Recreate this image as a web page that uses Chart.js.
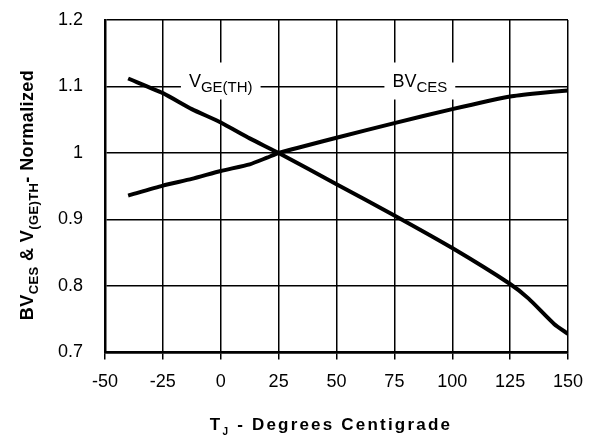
<!DOCTYPE html>
<html>
<head>
<meta charset="utf-8">
<script src="https://cdn.jsdelivr.net/npm/chart.js@4.4.1/dist/chart.umd.min.js"></script>
<style>
  html, body { margin: 0; padding: 0; background: #fff; }
  #wrap { width: 591px; height: 440px; }
</style>
</head>
<body>
<div id="wrap"><canvas id="chart" width="591" height="440"></canvas></div>
<script>
// temperature (deg C) and normalized values
const vgeTemps = [-40, -25, -12.5, 0, 12.5, 25, 50, 75, 100, 125, 133, 144, 150]
const vgeValues = [1.112, 1.090, 1.066, 1.046, 1.022, 1.0, 0.953, 0.906, 0.857, 0.803, 0.781, 0.743, 0.728]

const bvTemps = [-40, -25, -12.5, 0, 12.5, 20, 25, 50, 75, 100, 125, 137, 150]
const bvValues = [0.936, 0.951, 0.961, 0.973, 0.983, 0.993, 1.0, 1.023, 1.045, 1.066, 1.085, 1.090, 1.094]

const xTicks = [-50, -25, 0, 25, 50, 75, 100, 125, 150]
const yTicks = [0.7, 0.8, 0.9, 1.0, 1.1, 1.2]

const FONT = "'Liberation Sans', Arial, sans-serif"

function toPoints(xs, ys) {
    let pts = []
    for (let i = 0; i < xs.length; i += 1) {
        pts.push({ x: xs[i], y: ys[i] })
    }
    return pts
}

// draws a run of text pieces, some of them subscripts
function drawRich(ctx, parts, x, y, size, subSize, bold, spacing) {
    const w = bold ? 'bold ' : ''
    ctx.letterSpacing = spacing + 'px'
    let total = 0
    for (let p of parts) {
        ctx.font = w + (p.sub ? subSize : size) + 'px ' + FONT
        p.w = ctx.measureText(p.t).width
        total += p.w
    }
    let cx = x - total / 2
    ctx.textAlign = 'left'
    ctx.textBaseline = 'alphabetic'
    for (let p of parts) {
        ctx.font = w + (p.sub ? subSize : size) + 'px ' + FONT
        ctx.fillText(p.t, cx, p.sub ? y + size * 0.3 : y)
        cx += p.w
    }
    ctx.letterSpacing = '0px'
    return total
}

function noPad(scale) {
    scale.paddingTop = 0
    scale.paddingBottom = 0
    scale.paddingLeft = 0
    scale.paddingRight = 0
}

const labelPlugin = {
    id: 'labels',
    beforeDatasetsDraw(chart) {
        const ctx = chart.ctx
        const xs = chart.scales.x
        const ys = chart.scales.y
        ctx.save()
        // curve labels sit on white boxes over the 1.1 grid line
        const boxes = [
            { at: 0, parts: [{ t: 'V' }, { t: 'GE(TH)', sub: true }] },
            { at: 86, parts: [{ t: 'BV' }, { t: 'CES', sub: true }] }
        ]
        for (let b of boxes) {
            const px = xs.getPixelForValue(b.at)
            const py = ys.getPixelForValue(1.1)
            let tw = 0
            for (let p of b.parts) {
                ctx.font = (p.sub ? 15 : 18) + 'px ' + FONT
                tw += ctx.measureText(p.t).width
            }
            ctx.fillStyle = '#fff'
            ctx.fillRect(px - tw / 2 - 8, py - 24, tw + 16, 37)
            ctx.fillStyle = '#000'
            drawRich(ctx, b.parts, px, py, 18, 15, false, 0)
        }
        ctx.restore()
    },
    afterDraw(chart) {
        const ctx = chart.ctx
        ctx.save()
        ctx.fillStyle = '#000'
        drawRich(ctx, [{ t: 'T' }, { t: 'J', sub: true }, { t: ' - Degrees Centigrade' }],
            331, 430, 17, 10, true, 2.2)
        ctx.translate(33, 195)
        ctx.rotate(-Math.PI / 2)
        drawRich(ctx, [{ t: 'BV' }, { t: 'CES', sub: true }, { t: ' & V' }, { t: '(GE)TH', sub: true }, { t: '- Normalized' }],
            0, 0, 18, 13, true, 0.4)
        ctx.restore()
    }
}

const data = {
    datasets: [{
        label: 'VGE(TH)',
        data: toPoints(vgeTemps, vgeValues),
        borderColor: '#000',
        borderWidth: 4,
        pointRadius: 0,
        tension: 0.2,
        borderJoinStyle: 'round'
    }, {
        label: 'BVCES',
        data: toPoints(bvTemps, bvValues),
        borderColor: '#000',
        borderWidth: 4,
        pointRadius: 0,
        tension: 0.2,
        borderJoinStyle: 'round'
    }]
}

const config = {
    type: 'line',
    data: data,
    options: {
        responsive: false,
        animation: false,
        layout: { padding: { top: 20, right: 23, left: 0, bottom: 0 } },
        plugins: {
            legend: { display: false },
            tooltip: { enabled: false }
        },
        scales: {
            x: {
                type: 'linear',
                min: -50,
                max: 150,
                afterBuildTicks: (scale) => { scale.ticks = xTicks.map(v => ({ value: v })) },
                afterFit: (scale) => { scale.height = 87.5; noPad(scale) },
                ticks: {
                    color: '#000',
                    font: { family: FONT, size: 18 },
                    padding: 12,
                    maxRotation: 0
                },
                grid: { color: '#000', lineWidth: 1.5, tickLength: 7, drawTicks: true },
                border: { color: '#000', width: 2.5 }
            },
            y: {
                min: 0.7,
                max: 1.2,
                afterBuildTicks: (scale) => { scale.ticks = yTicks.map(v => ({ value: v })) },
                afterFit: (scale) => { scale.width = 105; noPad(scale) },
                ticks: {
                    color: '#000',
                    font: { family: FONT, size: 18 },
                    padding: 22,
                    callback: (v) => String(Math.round(v * 10) / 10)
                },
                grid: { color: '#000', lineWidth: 1.5, drawTicks: false },
                border: { color: '#000', width: 2.5 }
            }
        }
    },
    plugins: [labelPlugin]
}

new Chart(document.getElementById('chart'), config)
</script>
</body>
</html>
